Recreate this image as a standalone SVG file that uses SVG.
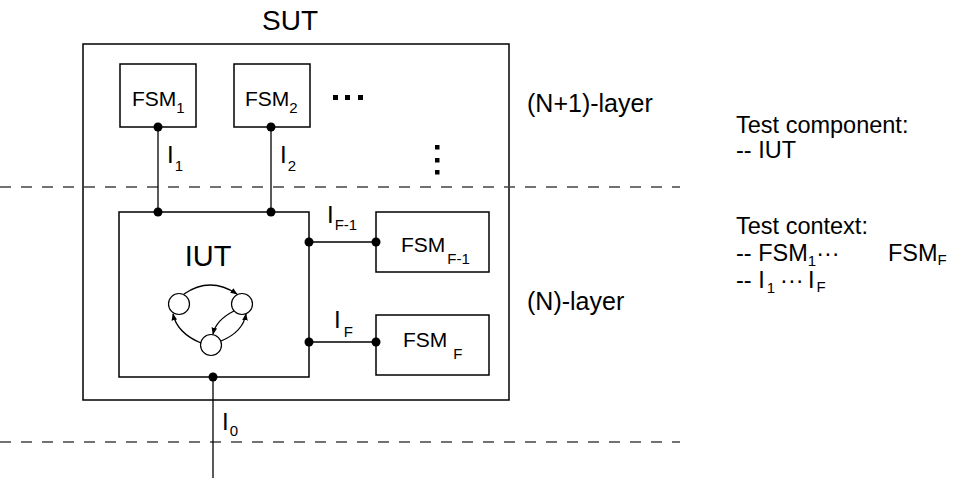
<svg xmlns="http://www.w3.org/2000/svg" width="971" height="478" viewBox="0 0 971 478">
<defs>
<style>
.box{fill:#fff;stroke:#000;stroke-width:1.5}
.frame{fill:none;stroke:#000;stroke-width:1.5}
.ln{fill:none;stroke:#000;stroke-width:1.3}
.dash{fill:none;stroke:#444;stroke-width:1.3;stroke-dasharray:11 10}
.dot{fill:#000}
.t{font-family:"Liberation Sans",Arial,sans-serif;fill:#000}
.st{fill:#fff;stroke:#000;stroke-width:1.2}
</style>
<marker id="ah" viewBox="0 0 10 10" refX="9" refY="5" markerWidth="7" markerHeight="7" markerUnits="userSpaceOnUse" orient="auto">
<path d="M0,1 L10,5 L0,9 z" fill="#000"/>
</marker>
</defs>
<rect width="971" height="478" fill="#fff"/>

<g id="sut">
<rect class="frame" x="83" y="44" width="426" height="356"/>
<text class="t" x="290" y="30" font-size="28" text-anchor="middle">SUT</text>
<rect x="333" y="95" width="5" height="5"/>
<rect x="345" y="95" width="5" height="5"/>
<rect x="358" y="95" width="5" height="5"/>
<rect x="435" y="145" width="4.5" height="4.5"/>
<rect x="435" y="158" width="4.5" height="4.5"/>
<rect x="435" y="170" width="4.5" height="4.5"/>
</g>

<g id="layers">
<line class="dash" x1="0" y1="187" x2="680" y2="187"/>
<line class="dash" x1="0" y1="442" x2="680" y2="442"/>
<text class="t" x="527" y="112" font-size="25">(N+1)-layer</text>
<text class="t" x="527" y="310" font-size="25">(N)-layer</text>
</g>

<g id="fsm1">
<rect class="box" x="120" y="64" width="76" height="63"/>
<text class="t" x="132" y="106" font-size="21">FSM<tspan font-size="15" dy="7">1</tspan></text>
</g>
<g id="fsm2">
<rect class="box" x="234" y="64" width="76" height="63"/>
<text class="t" x="245" y="106" font-size="21">FSM<tspan font-size="15" dy="7">2</tspan></text>
</g>
<g id="fsmF1">
<rect class="box" x="376" y="212" width="113" height="60"/>
<text class="t" x="401" y="252" font-size="21">FSM<tspan font-size="15" dx="2" dy="12">F-1</tspan></text>
</g>
<g id="fsmF">
<rect class="box" x="376" y="315" width="113" height="60"/>
<text class="t" x="403" y="347" font-size="21">FSM<tspan font-size="15" dx="6" dy="12">F</tspan></text>
</g>

<g id="iut">
<rect class="box" x="119" y="212" width="190" height="165"/>
<text class="t" x="208" y="266" font-size="29" text-anchor="middle">IUT</text>
<circle class="st" cx="179" cy="304" r="10.5"/>
<circle class="st" cx="242" cy="304" r="10.5"/>
<circle class="st" cx="211" cy="345" r="10.5"/>
<path class="ln" d="M184,294 Q210,276 237,294" marker-end="url(#ah)"/>
<path class="ln" d="M234,311 Q216,320 213,334" marker-end="url(#ah)"/>
<path class="ln" d="M221,341 Q243,332 246,314" marker-end="url(#ah)"/>
<path class="ln" d="M201,343 Q177,333 173,314" marker-end="url(#ah)"/>
</g>

<g id="connectors">
<line class="ln" x1="158" y1="127" x2="158" y2="212"/>
<line class="ln" x1="271" y1="127" x2="271" y2="212"/>
<line class="ln" x1="309" y1="242" x2="376" y2="242"/>
<line class="ln" x1="309" y1="342" x2="376" y2="342"/>
<line class="ln" x1="213" y1="377" x2="213" y2="478"/>
<circle class="dot" cx="158" cy="127" r="4.5"/>
<circle class="dot" cx="271" cy="127" r="4.5"/>
<circle class="dot" cx="158" cy="212" r="4.5"/>
<circle class="dot" cx="271" cy="212" r="4.5"/>
<circle class="dot" cx="309" cy="242" r="4.5"/>
<circle class="dot" cx="376" cy="242" r="4.5"/>
<circle class="dot" cx="309" cy="342" r="4.5"/>
<circle class="dot" cx="376" cy="342" r="4.5"/>
<circle class="dot" cx="213" cy="377" r="4.5"/>
<text class="t" x="167" y="163" font-size="24">I<tspan font-size="15" dx="1" dy="8">1</tspan></text>
<text class="t" x="280" y="163" font-size="24">I<tspan font-size="15" dx="1" dy="8">2</tspan></text>
<text class="t" x="327" y="223" font-size="24">I<tspan font-size="15" dx="1" dy="7">F-1</tspan></text>
<text class="t" x="334" y="328" font-size="24">I<tspan font-size="15" dx="3" dy="9">F</tspan></text>
<text class="t" x="222" y="430" font-size="24">I<tspan font-size="15" dx="1" dy="6">0</tspan></text>
</g>

<g id="legend">
<text class="t" x="736" y="133" font-size="23.5">Test component:</text>
<text class="t" x="736" y="158" font-size="23.5">-- IUT</text>
<text class="t" x="736" y="234" font-size="23.5">Test context:</text>
<text class="t" x="736" y="261" font-size="23.5">-- FSM<tspan font-size="15" dy="5">1</tspan><tspan dy="-5">···</tspan><tspan x="888">FSM</tspan><tspan font-size="15" dy="4">F</tspan></text>
<text class="t" x="736" y="288" font-size="23.5">-- I<tspan font-size="15" dx="2" dy="5">1</tspan><tspan dx="5" dy="-5">···</tspan><tspan x="808">I</tspan><tspan font-size="15" dx="2" dy="4">F</tspan></text>
</g>
</svg>
